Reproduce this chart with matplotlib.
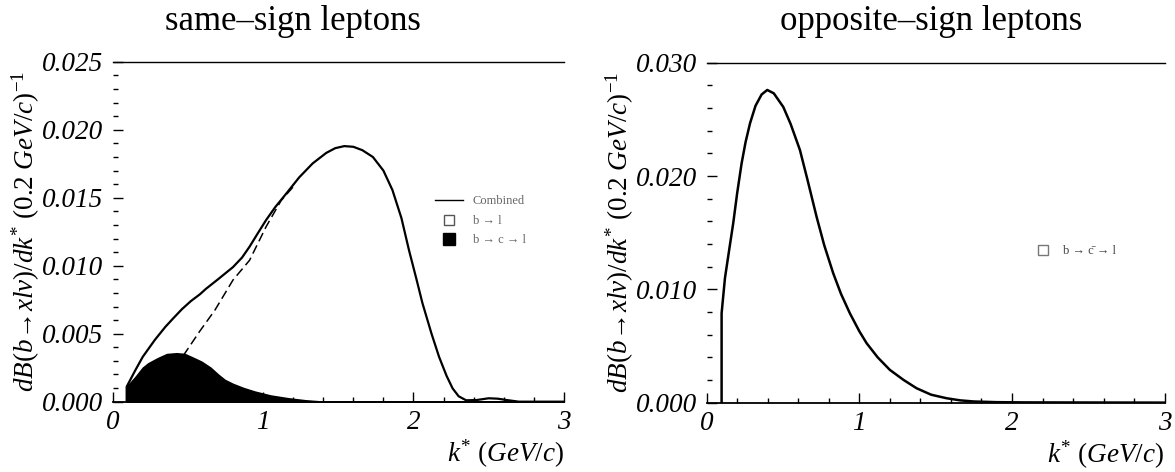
import matplotlib
matplotlib.use("Agg")
import matplotlib.pyplot as plt
from matplotlib.lines import Line2D
from matplotlib.ticker import MultipleLocator, FormatStrFormatter

plt.rcParams['font.family'] = ['Liberation Serif', 'DejaVu Serif']
plt.rcParams['mathtext.fontset'] = 'custom'
plt.rcParams['mathtext.rm'] = 'Liberation Serif'
plt.rcParams['mathtext.it'] = 'Liberation Serif:italic'

# ---- same-sign data ----
ss_comb_x = [0.093, 0.093, 0.15, 0.20, 0.28, 0.35, 0.40, 0.46, 0.52, 0.58, 0.62, 0.70, 0.80, 0.86,
             0.91, 0.96, 1.02, 1.08, 1.155, 1.24, 1.33, 1.42, 1.48, 1.54, 1.60, 1.66, 1.73, 1.80,
             1.86, 1.92, 1.97, 2.02, 2.06, 2.12, 2.17, 2.22, 2.26, 2.30, 2.35, 2.42, 2.50, 2.56,
             2.62, 2.70, 3.0]
ss_comb_y = [0.0, 0.0011, 0.0023, 0.0033, 0.00454, 0.0055, 0.0061, 0.0068, 0.0074, 0.0079, 0.0083,
             0.0090, 0.0099, 0.0106, 0.0114, 0.0123, 0.01336, 0.0143, 0.01532, 0.0165, 0.01753,
             0.0183, 0.01865, 0.0188, 0.01875, 0.0185, 0.0180, 0.0170, 0.01557, 0.0135, 0.01115,
             0.0090, 0.00723, 0.0050, 0.0033, 0.0019, 0.00098, 0.0004, 0.0001, 0.00012, 0.00025,
             0.00022, 0.00012, 0.0, 0.0]

ss_bl_x = [0.30, 0.48, 0.58, 0.68, 0.80, 0.91, 1.02, 1.12, 1.20]
ss_bl_y = [0.0010, 0.00356, 0.0052, 0.00674, 0.00895, 0.0104, 0.01287, 0.0148, 0.0158]

ss_bcl_x = [0.093, 0.093, 0.15, 0.20, 0.236, 0.30, 0.36, 0.425, 0.48, 0.54, 0.59, 0.65, 0.70,
            0.745, 0.80, 0.87, 0.944, 1.05, 1.165, 1.28, 1.40, 3.0]
ss_bcl_y = [0.0, 0.0011, 0.0018, 0.0025, 0.00282, 0.0032, 0.0035, 0.00356, 0.0035, 0.0032, 0.00294,
            0.0025, 0.0020, 0.0016, 0.0013, 0.0010, 0.00074, 0.00045, 0.00025, 0.0001, 0.0, 0.0]

# ---- opposite-sign data ----
os_x = [0.098, 0.098, 0.12, 0.15, 0.174, 0.20, 0.229, 0.255, 0.284, 0.32, 0.36, 0.397, 0.44, 0.502,
        0.55, 0.611, 0.66, 0.72, 0.77, 0.829, 0.88, 0.938, 1.0, 1.048, 1.12, 1.20, 1.29, 1.375,
        1.47, 1.57, 1.66, 1.75, 1.90, 2.08, 3.0]
os_y = [0.0, 0.00789, 0.0110, 0.0137, 0.01583, 0.0185, 0.02112, 0.0230, 0.02465, 0.0262, 0.0272,
        0.0276, 0.0273, 0.0261, 0.0246, 0.0223, 0.0197, 0.01641, 0.0139, 0.01142, 0.0096, 0.00789,
        0.0063, 0.00524, 0.0040, 0.00289, 0.0020, 0.00127, 0.0007, 0.00039, 0.0002, 0.0001,
        0.00004, 0.00002, 0.0]

titles = ["same\u2013sign leptons", "opposite\u2013sign leptons"]
ylabel = r"$dB(b\!\rightarrow\! x l \nu)/dk^{*}\ (0.2\ GeV/c)^{-1}$"
xlabel = r"$k^{*}\ (GeV/c)$"

fig = plt.figure(figsize=(11.75, 4.72), dpi=100)
ax1 = fig.add_axes([0.0959, 0.149, 0.384, 0.720])
ax2 = fig.add_axes([0.6014, 0.147, 0.3898, 0.720])

def style(ax, ymax, ymaj, ymin):
    ax.set_xlim(0, 3)
    ax.set_ylim(0, ymax)
    ax.xaxis.set_major_locator(MultipleLocator(1))
    ax.xaxis.set_minor_locator(MultipleLocator(0.2))
    ax.yaxis.set_major_locator(MultipleLocator(ymaj))
    ax.yaxis.set_minor_locator(MultipleLocator(ymin))
    ax.yaxis.set_major_formatter(FormatStrFormatter('%.3f'))
    ax.tick_params(axis='both', which='major', direction='in', length=7, width=1.0,
                   labelsize=19.5, right=False, top=False)
    ax.tick_params(axis='both', which='minor', direction='in', length=3.5, width=1.0,
                   right=False, top=False)
    ax.tick_params(axis='x', pad=6)
    ax.tick_params(axis='y', pad=7)
    for lab in ax.get_xticklabels() + ax.get_yticklabels():
        lab.set_fontstyle('italic')
    ax.spines['left'].set_visible(False)
    ax.spines['right'].set_visible(False)
    ax.spines['top'].set_linewidth(1.0)
    ax.spines['bottom'].set_linewidth(1.3)
    ax.set_ylabel(ylabel, fontsize=19.5, labelpad=0)
    ax.set_xlabel(xlabel, fontsize=19.5, loc='right', labelpad=2)

style(ax1, 0.025, 0.005, 0.001)
style(ax2, 0.030, 0.010, 0.002)

# left panel
ax1.plot(ss_bl_x, ss_bl_y, color='black', lw=1.1, ls=(0, (6, 3)), zorder=2)
ax1.fill_between(ss_bcl_x, ss_bcl_y, 0, color='black', lw=1.2, zorder=3)
ax1.plot(ss_comb_x, ss_comb_y, color='black', lw=1.6, zorder=4)

handles1 = [
    Line2D([0], [0], color='black', lw=1.0),
    Line2D([0], [0], marker='s', ls='none', markerfacecolor='white', markeredgecolor='#555555', markersize=7),
    Line2D([0], [0], marker='s', ls='none', markerfacecolor='black', markeredgecolor='black', markersize=8),
]
labels1 = ["Combined", "b \u2192 l", "b \u2192 c \u2192 l"]
leg1 = ax1.legend(handles1, labels1, loc='upper left', bbox_to_anchor=(0.69, 0.64),
                  frameon=False, fontsize=9, handlelength=2.2, labelspacing=0.6)
for t in leg1.get_texts():
    t.set_color('#666666')

# right panel
ax2.plot(os_x, os_y, color='black', lw=1.8, zorder=4)
handles2 = [Line2D([0], [0], marker='s', ls='none', markerfacecolor='white',
                   markeredgecolor='#777777', markersize=7)]
labels2 = ["b \u2192 c\u0304 \u2192 l"]
leg2 = ax2.legend(handles2, labels2, loc='center left', bbox_to_anchor=(0.69, 0.446),
                  frameon=False, fontsize=9, handlelength=1.5)
for t in leg2.get_texts():
    t.set_color('#444444')

fig.text(293 / 1175, 1 - 21 / 472, titles[0], ha='center', va='center', fontsize=25)
fig.text(931 / 1175, 1 - 21 / 472, titles[1], ha='center', va='center', fontsize=25)

fig.savefig("out.png", dpi=100)
